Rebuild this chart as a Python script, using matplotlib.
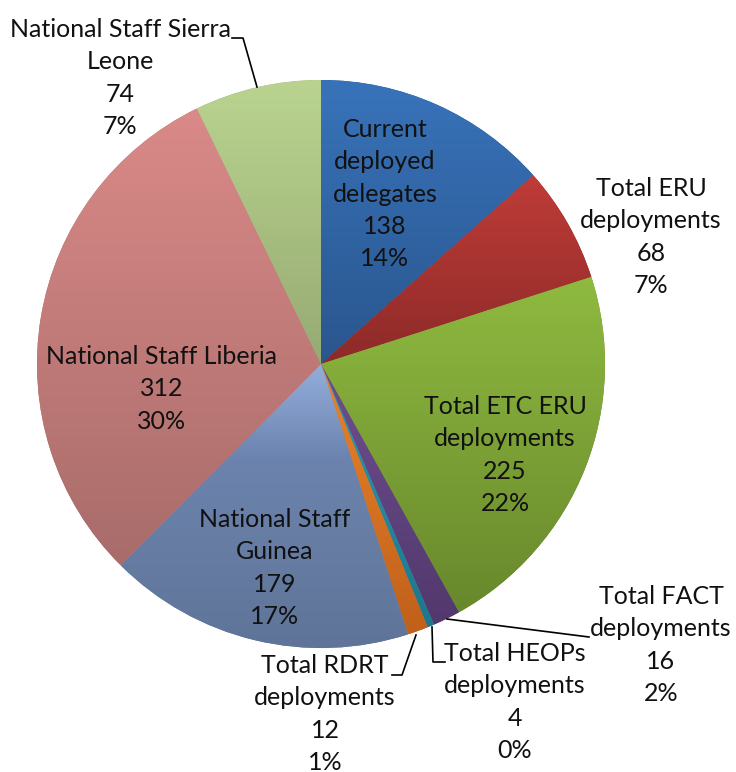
import matplotlib.pyplot as plt
import numpy as np
from matplotlib.colors import LinearSegmentedColormap

# chart data
names = ['Current\ndeployed\ndelegates', 'Total ERU\ndeployments', 'Total ETC ERU\ndeployments',
         'Total FACT\ndeployments', 'Total HEOPs\ndeployments', 'Total RDRT\ndeployments',
         'National Staff\nGuinea', 'National Staff Liberia', 'National Staff Sierra\nLeone']
values = [138, 68, 225, 16, 4, 12, 179, 312, 74]
pct_labels = ['14%', '7%', '22%', '2%', '0%', '1%', '17%', '30%', '7%']

# gradient stops (top -> bottom) for each slice
grads = [['#3873ba', '#2a568e'], ['#c03c38', '#8c2a28'], ['#8fba40', '#68882c'],
         ['#6e4f90', '#52386c'], ['#2e9cb2', '#1e768c'], ['#ea842c', '#c0601a'],
         ['#94aedc', '#6b83ae', '#667ca2', '#5f7498'], ['#da8a88', '#a86c6a'],
         ['#bad490', '#96aa72']]

W, H = 736, 772
CX, CY, R = 321, 364, 284


def px(x, y):
    return (x - CX) / R, (CY - y) / R


# label centres in pixels
label_pos = [(385, 194), (651, 237), (505, 455), (661, 645), (515, 702),
             (325, 714), (275, 568), (162, 389), (120, 78)]
leaders = {
    8: [(232, 38), (243, 38), (257, 87)],
    3: [(447, 619), (589, 637)],
    4: [(432, 627), (433, 662), (445, 662)],
    5: [(416, 635), (402, 675), (392, 675)],
}

fig = plt.figure(figsize=(W / 100, H / 100), dpi=100)
ax = fig.add_axes([0, 0, 1, 1])

wedges, _ = ax.pie(values, startangle=90, counterclock=False, radius=1, center=(0, 0),
                   colors=[g[-1] for g in grads], wedgeprops=dict(linewidth=0), frame=True)

for w, stops in zip(wedges, grads):
    ext = w.get_path().get_extents()
    cmap = LinearSegmentedColormap.from_list('g', stops[::-1])
    grad = np.linspace(0, 1, 256).reshape(-1, 1)
    im = ax.imshow(grad, cmap=cmap, origin='lower', aspect='auto',
                   extent=(ext.x0, ext.x1, ext.y0, ext.y1), zorder=w.get_zorder() + 0.1)
    im.set_clip_path(w)

ax.set_xlim(-CX / R, (W - CX) / R)
ax.set_ylim((CY - H) / R, CY / R)
ax.set_aspect('equal')
ax.axis('off')

for i, (name, v, p) in enumerate(zip(names, values, pct_labels)):
    x, y = px(*label_pos[i])
    ax.text(x, y, f'{name}\n{v}\n{p}', ha='center', va='center', fontsize=18,
            family='Lato', color='#111111', linespacing=1.48, zorder=5)

for pts in leaders.values():
    xs, ys = zip(*[px(a, b) for a, b in pts])
    ax.plot(xs, ys, color='black', lw=1.2, zorder=5)

fig.savefig('out.png', dpi=100)
